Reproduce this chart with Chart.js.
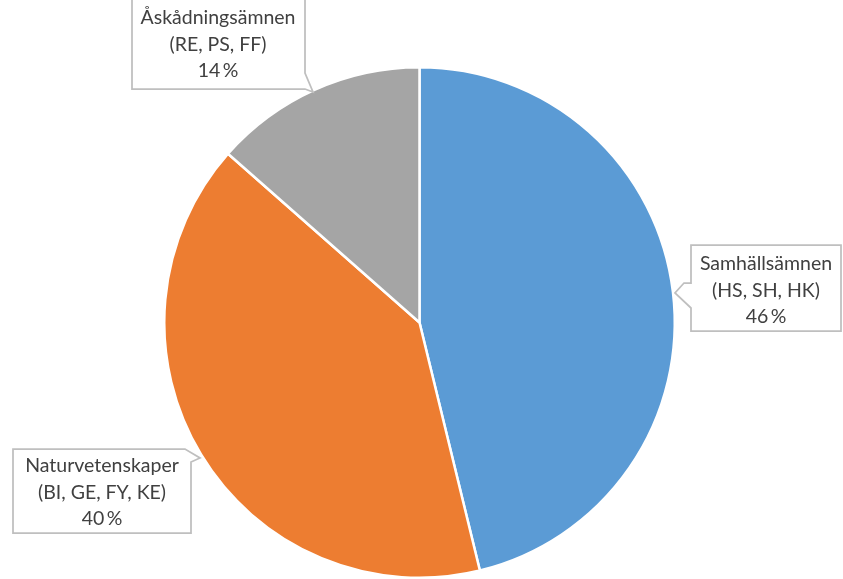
<!DOCTYPE html>
<html>
<head>
<meta charset="utf-8">
<script src="https://cdn.jsdelivr.net/npm/chart.js@4/dist/chart.umd.min.js"></script>
<style>
html,body{margin:0;padding:0;background:#fff;}
#wrap{width:843px;height:579px;position:relative;}
</style>
</head>
<body>
<div id="wrap"><canvas id="c" width="843" height="579"></canvas></div>
<script>
const categories = ["Samhällsämnen", "Naturvetenskaper", "Åskådningsämnen"];
const subjects = ["(HS, SH, HK)", "(BI, GE, FY, KE)", "(RE, PS, FF)"];
const shares = [46.2, 40.3, 13.5];
const shareLabels = ["46 %", "40 %", "14 %"];
const colors = ["#5B9BD5", "#ED7D31", "#A5A5A5"];

// callout geometry (layout only)
const callouts = [
  { box:[691,245,841,331], tx:766, ty:264 },
  { box:[13,449,191,533], tx:102, ty:466 },
  { box:[132,-10,305,89], tx:218, ty:18 }
];

const calloutPlugin = {
  id:'callouts',
  afterDraw(chart){
    const ctx = chart.ctx;
    ctx.save();
    callouts.forEach((c,i)=>{
      const [x1,y1,x2,y2] = c.box;
      ctx.fillStyle = '#fff';
      ctx.strokeStyle = '#BFBFBF';
      ctx.lineWidth = 1.75;
      ctx.beginPath();
      if(i===0){
        ctx.moveTo(x1,y1); ctx.lineTo(x2,y1); ctx.lineTo(x2,y2); ctx.lineTo(x1,y2);
        ctx.lineTo(x1,308); ctx.lineTo(675,293); ctx.lineTo(684,283); ctx.lineTo(x1,283); ctx.closePath();
      } else if(i===1){
        ctx.moveTo(x1,y1); ctx.lineTo(185,y1); ctx.lineTo(200,458); ctx.lineTo(x2,462);
        ctx.lineTo(x2,y2); ctx.lineTo(x1,y2); ctx.closePath();
      } else {
        ctx.moveTo(x1,y1); ctx.lineTo(x2,y1); ctx.lineTo(x2,73); ctx.lineTo(313,92);
        ctx.lineTo(x2,y2); ctx.lineTo(x1,y2); ctx.closePath();
      }
      ctx.fill(); ctx.stroke();
      ctx.fillStyle = '#404040';
      ctx.font = '19.5px Lato, "Open Sans", sans-serif';
      ctx.textAlign = 'center';
      ctx.textBaseline = 'middle';
      const lines = [categories[i], subjects[i], shareLabels[i].replace(' ', '\u2009')];
      lines.forEach((t,k)=>ctx.fillText(t, c.tx, c.ty + k*26.5));
    });
    ctx.restore();
  }
};

new Chart(document.getElementById('c'), {
  type:'pie',
  data:{
    labels: categories,
    datasets:[{ data: shares, backgroundColor: colors, borderColor:'#fff', borderWidth:2.5 }]
  },
  options:{
    responsive:false,
    animation:false,
    layout:{ padding:{ top:66, bottom:0, left:163, right:167 } },
    plugins:{ legend:{display:false}, tooltip:{enabled:false} }
  },
  plugins:[calloutPlugin]
});
</script>
</body>
</html>
